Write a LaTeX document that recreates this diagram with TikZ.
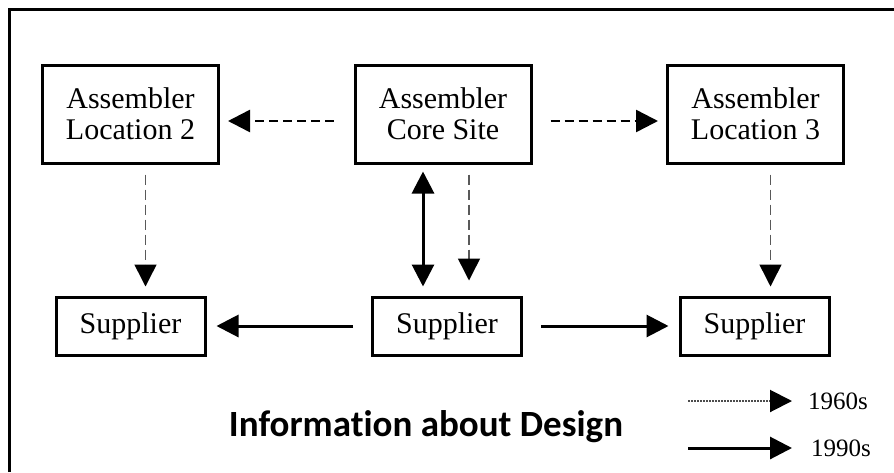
\documentclass[tikz,border=0pt]{standalone}
\usepackage{fontspec}
\setmainfont{Liberation Serif}
\newfontfamily\boxfont{Liberation Serif}
\newfontfamily\titlefont[RawFeature=-liga]{Carlito}
\usetikzlibrary{arrows.meta}
\begin{document}
\begin{tikzpicture}[x=1pt,y=-1pt,
  box/.style={draw,line width=3pt,inner sep=0pt,align=center,
    font=\boxfont\fontsize{30}{31}\selectfont},
  topbox/.style={box,minimum width=176pt,minimum height=98pt},
  lowbox/.style={box,minimum width=149pt,minimum height=58pt},
  tip/.style={-{Triangle[length=22pt,width=22pt,color=black]}},
  twotip/.style={{Triangle[length=22pt,width=22pt]}-{Triangle[length=22pt,width=22pt]}},
  solidflow/.style={tip,line width=3pt},
  dashflow/.style={tip,line width=2.5pt,dash pattern=on 9pt off 5pt},
  thinflow/.style={tip,line width=1.5pt,draw=black!65,
    dash pattern=on 10pt off 5pt},
  legtext/.style={anchor=west,inner sep=0pt,font=\boxfont\fontsize{25}{25}\selectfont}]
\useasboundingbox (0,0) rectangle (894,472);
\fill[white] (0,0) rectangle (894,472);

% outer frame (runs off the right and bottom edges)
\draw[line width=3pt] (9,472) -- (9,9) -- (894,9);

% assembler sites
\node[topbox] (loc2) at (130.5,114) {Assembler\\Location 2};
\node[topbox] (core) at (443,114) {Assembler\\Core Site};
\node[topbox] (loc3) at (755.5,114) {Assembler\\Location 3};

% suppliers
\node[lowbox] (sup1) at (130.5,326) {Supplier};
\node[lowbox] (sup2) at (447,326) {Supplier};
\node[lowbox] (sup3) at (754.5,326) {Supplier};

% design information flows
\draw[dashflow,shorten <=20pt,shorten >=8pt]
  ([yshift=-7pt]core.west) -- ([yshift=-7pt]loc2.east);
\draw[dashflow,shorten <=18pt,shorten >=8pt]
  ([yshift=-7pt]core.east) -- ([yshift=-7pt]loc3.west);

\draw[thinflow,shorten <=10pt,shorten >=9pt]
  ([xshift=15pt]loc2.south) -- ([xshift=15pt]loc2.south |- sup1.north);
\draw[thinflow,shorten <=10pt,shorten >=9pt]
  ([xshift=15pt]loc3.south) -- ([xshift=15pt]loc3.south |- sup3.north);
\draw[thinflow,shorten <=10pt,shorten >=15pt]
  ([xshift=26pt]core.south) -- ([xshift=26pt]core.south |- sup2.north);
\draw[twotip,line width=3pt,shorten <=7pt,shorten >=9pt]
  ([xshift=-20pt]core.south) -- ([xshift=-20pt]core.south |- sup2.north);

\draw[solidflow,shorten <=18pt,shorten >=10pt] (sup2.west) -- (sup1.east);
\draw[solidflow,shorten <=18pt,shorten >=10pt] (sup2.east) -- (sup3.west);

% title
\node[font=\titlefont\bfseries\fontsize{37}{37}\selectfont] (title) at (426,427)
  {Information about Design};

% legend
\coordinate (d0) at (688,401);
\coordinate (d1) at (792,401);
\coordinate (s0) at (688,448);
\coordinate (s1) at (792,448);
\draw[tip,line width=2pt,draw=black!70,dash pattern=on 1.5pt off 1.5pt] (d0) -- (d1);
\draw[tip,line width=3pt] (s0) -- (s1);
\node[legtext] (l60) at (808,401) {1960s};
\node[legtext] (l90) at (811,448) {1990s};
\end{tikzpicture}
\end{document}
